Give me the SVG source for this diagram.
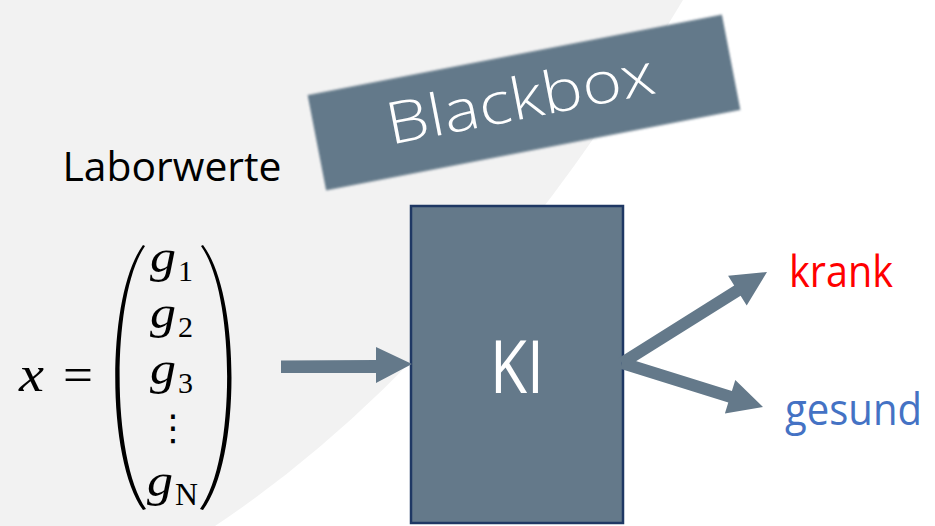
<svg xmlns="http://www.w3.org/2000/svg" width="935" height="526" viewBox="0 0 935 526">
<defs>
<style>
.arrow{fill:#64798A}
.lbl{font-family:"Open Sans","Liberation Sans",sans-serif}
.math{font-family:"Liberation Serif","DejaVu Serif",serif;fill:#000}
.mi{font-style:italic}
</style>
<filter id="soft" x="-5%" y="-10%" width="110%" height="120%"><feGaussianBlur stdDeviation="1.3"/></filter>
</defs>
<rect width="935" height="526" fill="#FFFFFF"/>
<path d="M0,0 L683,0 Q469,357 215,526 L0,526 Z" fill="#F2F2F2"/>

<g id="blackbox">
<g transform="translate(524,102.5) rotate(-11)">
<rect x="-211" y="-48.5" width="422" height="97" fill="#64798A" filter="url(#soft)"/>
<text x="-3" y="16" text-anchor="middle" class="lbl" font-size="58" font-weight="300" fill="#FFFFFF" textLength="272" lengthAdjust="spacingAndGlyphs">Blackbox</text>
</g>
</g>

<g id="laborwerte">
<text x="62.5" y="181" class="lbl" font-size="40" fill="#000" textLength="219" lengthAdjust="spacingAndGlyphs">Laborwerte</text>
</g>

<g id="vector">
<text x="19" y="391" class="math mi" font-size="50" textLength="25" lengthAdjust="spacingAndGlyphs">x</text>
<text x="63" y="391" class="math" font-size="48" textLength="30" lengthAdjust="spacingAndGlyphs">=</text>
<path d="M143,245 C106,295 106,460 143,510 L146,509 C111,460 111,295 145,246 Z" fill="#000"/>
<path d="M203,245 C241,295 241,460 203,510 L200,509 C236,460 236,295 201,246 Z" fill="#000"/>
<text x="150" y="272" class="math mi" font-size="46" textLength="26" lengthAdjust="spacingAndGlyphs">g</text>
<text x="178" y="281" class="math" font-size="30">1</text>
<text x="150" y="328" class="math mi" font-size="46" textLength="26" lengthAdjust="spacingAndGlyphs">g</text>
<text x="178" y="337" class="math" font-size="30">2</text>
<text x="150" y="384" class="math mi" font-size="46" textLength="26" lengthAdjust="spacingAndGlyphs">g</text>
<text x="178" y="393" class="math" font-size="30">3</text>
<text x="173" y="440" text-anchor="middle" font-family="DejaVu Sans,sans-serif" font-size="36" fill="#000">⋮</text>
<text x="147" y="496" class="math mi" font-size="46" textLength="26" lengthAdjust="spacingAndGlyphs">g</text>
<text x="175" y="505" class="math" font-size="32" textLength="23" lengthAdjust="spacingAndGlyphs">N</text>
</g>

<g id="ki">
<rect x="411" y="206" width="212" height="317" fill="#64798A" stroke="#1F3864" stroke-width="2.5"/>
<text x="517" y="393" text-anchor="middle" class="lbl" font-size="74" fill="#FFFFFF" textLength="54" lengthAdjust="spacingAndGlyphs">KI</text>
</g>

<g id="krank">
<text x="789" y="286.5" class="lbl" font-size="43" fill="#FF0000" textLength="104" lengthAdjust="spacingAndGlyphs">krank</text>
</g>
<g id="gesund">
<text x="785" y="425" class="lbl" font-size="43" fill="#4472C4" textLength="137" lengthAdjust="spacingAndGlyphs">gesund</text>
</g>

<g id="connectors">
<polygon class="arrow" points="281,360.5 376,360 376,347 412,364 376,383 376,373 281,373"/>
<polygon class="arrow" points="618.8,357.9 734.2,285.5 728.1,275.8 767,272 746.7,305.4 740.6,295.7 625.2,368.1"/>
<polygon class="arrow" points="623.8,357.3 731.9,391 735.3,380 763,407 724.9,413.4 728.3,402.4 620.2,368.7"/>
</g>
</svg>
